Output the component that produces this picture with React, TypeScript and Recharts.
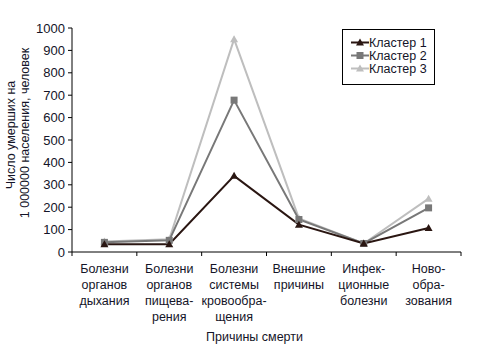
import React from "react";
import { LineChart, Line, XAxis, YAxis } from "recharts";

// Categories (causes of death), split into the lines shown under the axis
const categoryLines = [
  ["Болезни", "органов", "дыхания"],
  ["Болезни", "органов", "пищева-", "рения"],
  ["Болезни", "системы", "кровообра-", "щения"],
  ["Внешние", "причины"],
  ["Инфек-", "ционные", "болезни"],
  ["Ново-", "обра-", "зования"],
];

const seriesNames = ["Кластер 1", "Кластер 2", "Кластер 3"];
const cluster1 = [35, 35, 340, 122, 38, 107];
const cluster2 = [43, 52, 678, 145, 38, 197];
const cluster3 = [47, 57, 950, 150, 38, 238];
const yTicks = [0, 100, 200, 300, 400, 500, 600, 700, 800, 900, 1000];

const data = categoryLines.map((lines, i) => ({
  cause: lines.join(" "),
  c1: cluster1[i],
  c2: cluster2[i],
  c3: cluster3[i],
}));

const W = 477;
const H = 355;
const PLOT_LEFT = 72;
const PLOT_RIGHT = 461;
const BAND = (PLOT_RIGHT - PLOT_LEFT) / categoryLines.length;
const TEXT = "#141428";
const FONT = "Arial, 'Liberation Sans', sans-serif";

const colors = ["#2a1612", "#787878", "#bebebe"];
const shapes = ["triangle", "square", "triangle"];

const Marker = ({ cx, cy, kind, color }: any) => {
  if (cx == null || cy == null) return null;
  if (kind === "square") {
    return <rect x={cx - 3.5} y={cy - 3.5} width={7} height={7} fill={color} />;
  }
  return (
    <polygon
      points={`${cx},${cy - 4} ${cx + 4},${cy + 3} ${cx - 4},${cy + 3}`}
      fill={color}
    />
  );
};

const CauseTick = ({ x, y, index }: any) => {
  const lines = categoryLines[index] || [];
  const last = index === categoryLines.length - 1;
  return (
    <g>
      <line x1={x - BAND / 2} y1={y} x2={x - BAND / 2} y2={y + 4} stroke="#000" />
      {last && <line x1={x + BAND / 2} y1={y} x2={x + BAND / 2} y2={y + 4} stroke="#000" />}
      {lines.map((t, k) => (
        <text
          key={k}
          x={x}
          y={y + 21 + k * 16}
          textAnchor="middle"
          fontSize={12.5}
          fill={TEXT}
          fontFamily={FONT}
        >
          {t}
        </text>
      ))}
    </g>
  );
};

const YLabel = () => (
  <g fontFamily={FONT} fontSize={12.5} fill={TEXT}>
    <text transform="translate(15,135) rotate(-90)" textAnchor="middle">
      Число умерших на
    </text>
    <text transform="translate(29,133) rotate(-90)" textAnchor="middle">
      1 000000 населения, человек
    </text>
  </g>
);

const LegendBox = () => (
  <div
    style={{
      position: "absolute",
      left: 342,
      top: 29,
      border: "1px solid #000",
      width: 93,
      height: 56,
      boxSizing: "border-box",
      paddingTop: 6,
      background: "#fff",
      fontFamily: FONT,
      fontSize: 12.5,
      color: TEXT,
    }}
  >
    {seriesNames.map((name, i) => (
      <div key={name} style={{ display: "flex", alignItems: "center", height: 13 }}>
        <svg width={26} height={13} style={{ flexShrink: 0 }}>
          <line x1={8} y1={6.5} x2={26} y2={6.5} stroke={colors[i]} strokeWidth={2} />
          <Marker cx={17} cy={6.5} kind={shapes[i]} color={colors[i]} />
        </svg>
        <span style={{ whiteSpace: "nowrap" }}>{name}</span>
      </div>
    ))}
  </div>
);

export default function App() {
  const keys = ["c1", "c2", "c3"];
  return (
    <div style={{ position: "absolute", left: 0, top: 0, width: W, height: H, background: "#fff" }}>
      <LineChart
        width={W}
        height={H}
        data={data}
        margin={{ top: 28, right: W - PLOT_RIGHT, bottom: 0, left: 0 }}
      >
        <XAxis
          dataKey="cause"
          scale="band"
          height={103}
          interval={0}
          tickSize={0}
          tickMargin={0}
          axisLine={{ stroke: "#000" }}
          tick={<CauseTick />}
          label={{
            value: "Причины смерти",
            position: "insideBottom",
            offset: 14,
            fill: TEXT,
            fontSize: 12.5,
            fontFamily: FONT,
            dx: -12,
          }}
        />
        <YAxis
          width={PLOT_LEFT}
          domain={[0, 1000]}
          ticks={yTicks}
          interval={0}
          tickSize={4}
          tickMargin={3}
          axisLine={{ stroke: "#000" }}
          tickLine={{ stroke: "#000" }}
          tick={{ fill: TEXT, fontSize: 13, fontFamily: FONT }}
          label={{ content: <YLabel /> }}
        />
        {[2, 1, 0].map((i) => (
          <Line
            key={keys[i]}
            type="linear"
            dataKey={keys[i]}
            name={seriesNames[i]}
            stroke={colors[i]}
            strokeWidth={2}
            isAnimationActive={false}
            dot={(p: any) => (
              <Marker key={`${keys[i]}-${p.index}`} cx={p.cx} cy={p.cy} kind={shapes[i]} color={colors[i]} />
            )}
            activeDot={false}
          />
        ))}
      </LineChart>
      <LegendBox />
    </div>
  );
}
